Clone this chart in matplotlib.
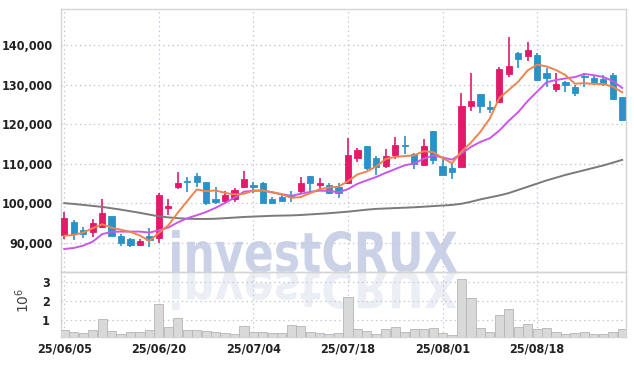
import numpy as np
import matplotlib
matplotlib.use("Agg")
import matplotlib.pyplot as plt
from matplotlib import font_manager
from matplotlib.textpath import TextPath
from matplotlib.patches import PathPatch
from matplotlib.transforms import Affine2D, IdentityTransform
from matplotlib.ticker import FuncFormatter

# a condensed font for tick labels, if the system has one
cond = font_manager.FontProperties(family="DejaVu Sans", stretch="condensed", weight="bold")
has_cond = "Condensed" in font_manager.findfont(cond)

dates = ["25/06/05", "25/06/09", "25/06/10", "25/06/11", "25/06/12", "25/06/13",
         "25/06/16", "25/06/17", "25/06/18", "25/06/19", "25/06/20",
         "25/06/23", "25/06/24", "25/06/25", "25/06/26", "25/06/27",
         "25/06/30", "25/07/01", "25/07/02", "25/07/03", "25/07/04",
         "25/07/07", "25/07/08", "25/07/09", "25/07/10", "25/07/11",
         "25/07/14", "25/07/15", "25/07/16", "25/07/17", "25/07/18",
         "25/07/21", "25/07/22", "25/07/23", "25/07/24", "25/07/25",
         "25/07/28", "25/07/29", "25/07/30", "25/07/31", "25/08/01",
         "25/08/04", "25/08/05", "25/08/06", "25/08/07", "25/08/08",
         "25/08/11", "25/08/12", "25/08/13", "25/08/14", "25/08/18",
         "25/08/19", "25/08/20", "25/08/21", "25/08/22",
         "25/08/25", "25/08/26", "25/08/27", "25/08/28", "25/08/29"]

opens = [92000, 95400, 93300, 92860, 94130, 96830, 91800, 90950, 89400, 91770,
         91340, 98940, 104250, 105700, 107040, 105370, 101140, 100710, 101060, 104250,
         104680, 105110, 101140, 101570, 102150, 103000, 106960, 104600, 104600, 104180,
         105110, 111440, 114560, 111600, 109500, 112280, 114810, 112460, 109750, 118360,
         109500, 109060, 109320, 124520, 127650, 124350, 125780, 132800, 138180, 137420,
         137600, 133120, 128900, 130690, 129570, 132280, 131700, 131520, 132540, 126890]
highs = [97900, 95820, 94100, 96000, 101060, 96900, 92300, 91250, 91000, 93720,
         102580, 101060, 108050, 106790, 107800, 105400, 104100, 103000, 103800, 108300,
         105520, 105520, 101570, 102150, 103170, 106790, 107000, 106380, 105100, 105100,
         116500, 113980, 114600, 112000, 113720, 116900, 117090, 112860, 116410, 118400,
         111850, 110180, 127900, 132970, 127700, 126030, 134490, 142080, 138440, 140970,
         137940, 134230, 132970, 130850, 130000, 133120, 132540, 132540, 132970, 127000]
lows = [91000, 90760, 91200, 91600, 93720, 91700, 89300, 88900, 89400, 88900,
        90080, 97090, 103600, 102990, 104250, 99500, 99870, 99870, 100300, 103850,
        102580, 100050, 99900, 100300, 100450, 102580, 103170, 103420, 102400, 101300,
        105000, 110580, 108480, 107220, 108900, 111190, 112530, 108660, 109500, 110000,
        107220, 106130, 109170, 123500, 122840, 122840, 125520, 132100, 134230, 136150,
        130940, 129420, 128310, 128310, 127050, 129420, 130430, 129750, 126210, 120970]
closes = [96250, 92300, 92300, 95000, 97670, 91800, 89900, 89400, 90500, 90760,
          102150, 99370, 105270, 105370, 105370, 100050, 100300, 102150, 103420, 106130,
          104250, 100200, 100200, 100710, 101570, 105270, 105110, 105270, 102730, 102730,
          112280, 113550, 109060, 109320, 112030, 114810, 114560, 110000, 114560, 111010,
          107220, 108050, 124690, 125950, 124690, 124000, 134050, 134810, 136510, 138870,
          131270, 131850, 130260, 130000, 128050, 131950, 130840, 130260, 126460, 121140]

# moving average lines
ma5 = [91800, 92000, 92600, 93700, 94704, 93814, 93334, 92754, 91854, 90472,
       92542, 94436, 97610, 100584, 103506, 103086, 103272, 102648, 102258, 102410,
       103250, 103230, 102840, 102298, 101386, 101590, 102572, 103586, 103990, 104222,
       105624, 107312, 108070, 109388, 111248, 111754, 111956, 112144, 113192, 112988,
       111470, 110168, 113106, 115384, 118120, 121476, 126676, 128700, 130812, 133648,
       135102, 134662, 133752, 132450, 130286, 130422, 130220, 130220, 129512, 128130]
ma10 = [88450, 88700, 89300, 90300, 92200, 92800, 92850, 92850, 92850, 92588,
        93178, 93885, 95182, 96219, 96989, 97814, 98854, 100129, 101421, 102958,
        103168, 103251, 102744, 102278, 101898, 102420, 102901, 103213, 103144, 102804,
        103607, 104942, 105828, 106689, 107735, 108689, 109634, 110107, 111290, 112118,
        111612, 111062, 112625, 114288, 115554, 116473, 118422, 120903, 123098, 125884,
        128289, 130669, 131226, 131631, 131967, 132762, 132441, 131986, 130981, 129208]
ma60 = [100050, 99850, 99600, 99350, 99100, 98750, 98400, 98000, 97600, 97150,
        96700, 96450, 96250, 96100, 96050, 96050, 96100, 96250, 96400, 96550,
        96650, 96750, 96850, 96900, 96950, 97050, 97200, 97350, 97500, 97700,
        97900, 98150, 98400, 98600, 98700, 98800, 98900, 99000, 99150, 99300,
        99450, 99600, 99900, 100400, 101000, 101500, 102000, 102600, 103400, 104200,
        105000, 105800, 106500, 107200, 107800, 108400, 109000, 109600, 110300, 111000]

volume = [0.48, 0.39, 0.34, 0.48, 1.04, 0.44, 0.27, 0.36, 0.36, 0.48,
          1.82, 0.64, 1.09, 0.46, 0.46, 0.44, 0.39, 0.34, 0.29, 0.69,
          0.39, 0.39, 0.34, 0.34, 0.72, 0.69, 0.39, 0.34, 0.27, 0.30,
          2.18, 0.52, 0.44, 0.29, 0.52, 0.62, 0.39, 0.52, 0.55, 0.57,
          0.34, 0.23, 3.15, 2.13, 0.57, 0.36, 1.24, 1.56, 0.62, 0.78,
          0.52, 0.57, 0.39, 0.25, 0.30, 0.36, 0.25, 0.25, 0.39, 0.52]
volume = [v * 1e6 for v in volume]

up_color = "#e21a6a"
down_color = "#2b92c8"
grid_color = "#c3c8dc"
text_color = "#222222"

x = np.arange(len(dates))
o = np.array(opens)
c = np.array(closes)
colors = [up_color if cc >= oo else down_color for oo, cc in zip(o, c)]

fig = plt.figure(figsize=(6.34, 3.66), dpi=100)
fig.patch.set_facecolor("white")
ax = fig.add_axes([0.0962, 0.2577, 0.8912, 0.7177])
axv = fig.add_axes([0.0962, 0.0800, 0.8912, 0.1777], sharex=ax)
for a in (ax, axv):
    a.set_facecolor("none")
    a.set_zorder(1)
    for s in a.spines.values():
        s.set_color("#d4d4d4")
        s.set_linewidth(1.0)
    a.grid(True, color=grid_color, linestyle=(0, (1.2, 2.5)), linewidth=0.9)
    a.set_axisbelow(True)
    a.tick_params(length=0, colors=text_color, pad=4)
ax.tick_params(axis="y", pad=6)
axv.tick_params(axis="y", pad=8)

# watermark with its reflection
prop = font_manager.FontProperties(family="DejaVu Sans", weight="bold")
tp = TextPath((0, 0), "investCRUX", size=100, prop=prop)
ext = tp.get_extents()
sx = 285 / ext.width
sy = 42 / ext.y1
base_y = 366 - 272
tr = Affine2D().translate(-ext.x0, 0).scale(sx, sy).translate(172, base_y)
fig.add_artist(PathPatch(tr.transform_path(tp), facecolor="#cbd2e7", edgecolor="none",
                         transform=IdentityTransform(), zorder=0.5))
tr2 = Affine2D().translate(-ext.x0, 0).scale(sx, -sy * 0.9).translate(172, base_y)
fig.add_artist(PathPatch(tr2.transform_path(tp), facecolor="#eceef5", edgecolor="none",
                         transform=IdentityTransform(), zorder=0.5))

# candles
ax.vlines(x, lows, highs, colors=colors, linewidth=1.2, zorder=3)
body = np.maximum(np.abs(c - o), 250)
ax.bar(x, body, bottom=np.minimum(o, c), width=0.66, color=colors,
       edgecolor=colors, linewidth=0.6, zorder=4)

ax.plot(x, ma60, color="#7a7a7a", linewidth=1.4, zorder=5)
ax.plot(x, ma10, color="#c957e8", linewidth=1.4, zorder=5)
ax.plot(x, ma5, color="#ee8450", linewidth=1.4, zorder=6)

ax.set_ylim(82700, 149200)
ax.set_yticks([90000, 100000, 110000, 120000, 130000, 140000])
ax.yaxis.set_major_formatter(FuncFormatter(lambda v, p: f"{int(v):,}"))
ax.tick_params(axis="x", labelbottom=False)

axv.bar(x, volume, width=0.97, color="#d9d9d9", edgecolor="#b5b5b5", linewidth=0.6,
        zorder=3, bottom=0)
axv.set_ylim(0.13e6, 3.52e6)
axv.set_yticks([1e6, 2e6, 3e6])
axv.yaxis.set_major_formatter(FuncFormatter(lambda v, p: f"{v / 1e6:.0f}"))
axv.set_ylabel(r"$10^6$", fontsize=10, color="#444444")
axv.yaxis.set_label_coords(-0.052, 0.56)

axv.set_xlim(-0.35, 59.4)
axv.set_xticks(x[::10])
axv.set_xticklabels([dates[i] for i in range(0, len(dates), 10)])

for lab in ax.get_yticklabels() + axv.get_yticklabels() + axv.get_xticklabels():
    if has_cond:
        lab.set_fontproperties(font_manager.FontProperties(
            family="DejaVu Sans", stretch="condensed", weight="bold", size=9))
    else:
        lab.set_fontproperties(font_manager.FontProperties(
            family="DejaVu Sans", weight="normal", size=8))
    lab.set_color(text_color)

fig.savefig("out.png", dpi=100)
